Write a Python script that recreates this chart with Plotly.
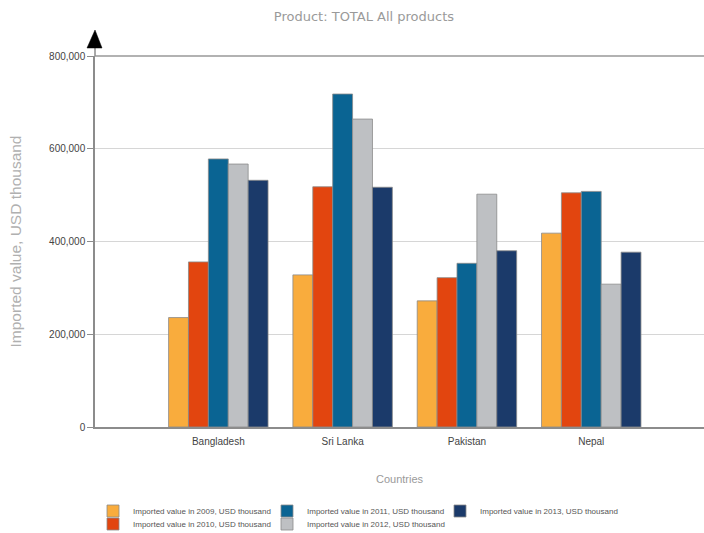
import plotly.graph_objects as go

countries = ["Bangladesh", "Sri Lanka", "Pakistan", "Nepal"]
years = ["2009", "2010", "2011", "2012", "2013"]
v2009 = [236000, 328000, 272000, 418000]
v2010 = [356000, 518000, 322000, 505000]
v2011 = [578000, 718000, 353000, 508000]
v2012 = [567000, 664000, 502000, 308000]
v2013 = [532000, 517000, 380000, 377000]
series = [v2009, v2010, v2011, v2012, v2013]
colors = ["#F9AC3D", "#E2450F", "#0A6493", "#BEC0C3", "#1B3A6A"]
legend_ids = ["legend", "legend2", "legend3", "legend4", "legend5"]
# legend swatch positions (px) in the layout: 3 columns x 2 rows, column-major
legend_pos = [(108, 511), (108, 524), (282, 511), (282, 524), (455, 511)]
yticks = [0, 200000, 400000, 600000, 800000]
ytick_labels = ["0", "200,000", "400,000", "600,000", "800,000"]

FONT = "Liberation Sans Narrow, Liberation Sans, Arial, sans-serif"

fig = go.Figure()
for y, vals, c, lg in zip(years, series, colors, legend_ids):
    fig.add_trace(go.Bar(
        x=countries, y=vals, name=f"Imported value in {y}, USD thousand",
        marker=dict(color=c, line=dict(color="#8a8a8a", width=0.8)),
        legend=lg,
    ))

legends = {}
for lg, (px, py) in zip(legend_ids, legend_pos):
    legends[lg] = dict(orientation="h", xref="container", yref="container",
                       x=(px - 15) / 704, xanchor="left",
                       y=1 - py / 533, yanchor="middle",
                       font=dict(family=FONT, size=8, color="#555"),
                       itemwidth=30, bgcolor="rgba(0,0,0,0)")

fig.update_layout(
    width=704, height=533,
    margin=dict(l=95, r=0, t=56, b=106, autoexpand=False),
    paper_bgcolor="white", plot_bgcolor="white",
    barmode="group", bargap=0.2, bargroupgap=0,
    font=dict(family=FONT, size=10, color="#444"),
    title=dict(text="Product: TOTAL All products", x=0.517, xanchor="center",
               y=1 - 16 / 533, yanchor="middle", yref="container",
               font=dict(family="DejaVu Sans, sans-serif", size=13, color="#9a9a9a")),
    showlegend=True,
    **legends,
    xaxis=dict(range=[-0.992, 3.907], showline=True, linecolor="#8c8c8c", linewidth=1.5,
               ticks="", showgrid=False, tickfont=dict(size=10, color="#444"),
               ticklabelstandoff=4,
               title=dict(text="Countries", standoff=30,
                          font=dict(family=FONT, size=11, color="#9a9a9a"))),
    yaxis=dict(range=[0, 800000], tickvals=yticks, ticktext=ytick_labels,
               showline=True, linecolor="#8c8c8c", linewidth=1.5,
               ticks="outside", ticklen=6, tickcolor="#8c8c8c", tickwidth=1,
               showgrid=True, gridcolor="#d6d6d6", gridwidth=1, zeroline=False,
               tickfont=dict(size=10, color="#444"),
               title=dict(text="Imported value, USD thousand", standoff=24,
                          font=dict(family="Liberation Sans, Arial, sans-serif",
                                    size=15.5, color="#b0b0b0"))),
)

# top frame line at max
fig.add_shape(type="line", xref="paper", yref="paper", x0=0, x1=1, y0=1, y1=1,
              line=dict(color="#999", width=1.5))
# axis extension and arrowhead
fig.add_shape(type="line", xref="paper", yref="paper", x0=0, x1=0, y0=1, y1=1.05,
              line=dict(color="#8c8c8c", width=1.5))
fig.add_shape(type="path", xref="paper", yref="paper",
              path="M -0.0131 1.0216 L 0.0115 1.0216 L 0 1.070 Z",
              fillcolor="black", line=dict(color="black", width=0.5))

fig.write_html("out.html")
